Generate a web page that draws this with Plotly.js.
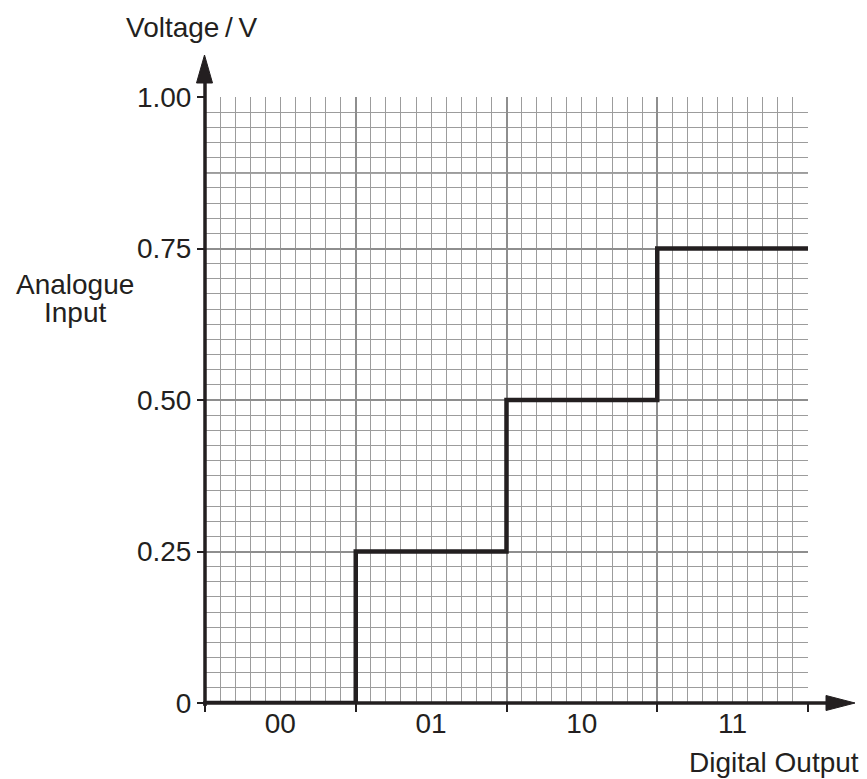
<!DOCTYPE html>
<html>
<head>
<meta charset="utf-8">
<script src="https://cdn.plot.ly/plotly-3.0.1.min.js"></script>
<style>
html,body{margin:0;padding:0;background:#fff;}
#chart{width:867px;height:779px;}
</style>
</head>
<body>
<div id="chart"></div>
<script>
// Data
const categories = ["00", "01", "10", "11"];
const levels = [0, 0.25, 0.5, 0.75];
const yTickVals = [0, 0.25, 0.5, 0.75, 1.0];
const yTickText = ["0", "0.25", "0.50", "0.75", "1.00"];
const xTitle = "Digital Output";
const yTitleTop = "Voltage\u2009/\u2009V";
const yTitleSide1 = "Analogue";
const yTitleSide2 = "Input";

// Build step trace from the levels: each code occupies one unit column
const stepX = [];
const stepY = [];
levels.forEach((v, i) => { stepX.push(i); stepY.push(v); });
stepX.push(levels.length);
stepY.push(levels[levels.length - 1]);

const ink = "#231f20";
const font = {family: "Liberation Sans, Arial, Helvetica, sans-serif", size: 28, color: ink};

const trace = {
  x: stepX, y: stepY, type: "scatter", mode: "lines",
  line: {shape: "hv", color: ink, width: 4.5},
  hoverinfo: "skip", showlegend: false, cliponaxis: false
};
// dummy trace for the label axis
const labelTrace = {
  x: categories.map((c, i) => i + 0.5), y: levels.map(() => null),
  xaxis: "x2", yaxis: "y", type: "scatter", mode: "markers",
  hoverinfo: "skip", showlegend: false
};

const L = 205, R = 808, T = 97, B = 703, W = 867, H = 779;
const pw = R - L, ph = B - T;
const px = v => (v - L) / pw;
const py = v => (B - v) / ph;

const shapes = [
  // darker line at 0.875
  {type: "line", xref: "x", yref: "y", x0: 0, x1: levels.length, y0: 0.875, y1: 0.875,
   line: {color: "#4a4a4a", width: 1.5}, layer: "below"},
  // y axis line
  {type: "line", xref: "paper", yref: "paper", x0: 0, x1: 0, y0: py(706), y1: py(80),
   line: {color: ink, width: 3.5}},
  // x axis line
  {type: "line", xref: "paper", yref: "paper", x0: px(203), x1: px(830), y0: 0, y1: 0,
   line: {color: ink, width: 3.5}},
  // y arrow head
  {type: "path", xref: "paper", yref: "paper",
   path: `M ${px(204.5)} ${py(55)} L ${px(196.5)} ${py(83)} L ${px(212.5)} ${py(83)} Z`,
   fillcolor: ink, line: {color: ink, width: 1}},
  // x arrow head
  {type: "path", xref: "paper", yref: "paper",
   path: `M ${px(855)} ${py(703)} L ${px(826)} ${py(695.5)} L ${px(826)} ${py(710.5)} Z`,
   fillcolor: ink, line: {color: ink, width: 1}}
];

const annotations = [
  {text: yTitleTop, xref: "paper", yref: "paper", x: px(191), y: py(28),
   showarrow: false, font: font, xanchor: "center", yanchor: "middle"},
  {text: yTitleSide1, xref: "paper", yref: "paper", x: px(75), y: py(284),
   showarrow: false, font: font, xanchor: "center", yanchor: "middle"},
  {text: yTitleSide2, xref: "paper", yref: "paper", x: px(75), y: py(312),
   showarrow: false, font: font, xanchor: "center", yanchor: "middle"},
  {text: xTitle, xref: "paper", yref: "paper", x: px(861), y: py(762),
   showarrow: false, font: font, xanchor: "right", yanchor: "middle"}
];

const layout = {
  width: W, height: H,
  margin: {l: L, r: W - R, t: T, b: H - B, pad: 0},
  paper_bgcolor: "#fff", plot_bgcolor: "#fff",
  font: font,
  showlegend: false,
  xaxis: {
    range: [0, levels.length], fixedrange: true,
    tickvals: categories.map((c, i) => i).concat([categories.length]),
    showticklabels: false,
    ticks: "outside", ticklen: 8, tickwidth: 2, tickcolor: ink,
    showgrid: true, gridcolor: "#8e8e8e", gridwidth: 2,
    minor: {dtick: 0.1, tick0: 0, showgrid: true, gridcolor: "#9c9c9c", gridwidth: 1, ticks: ""},
    zeroline: false, showline: false
  },
  xaxis2: {
    overlaying: "x", anchor: "y", side: "bottom",
    range: [0, levels.length], fixedrange: true,
    tickvals: categories.map((c, i) => i + 0.5), ticktext: categories,
    ticks: "", showgrid: false, zeroline: false, showline: false,
    tickfont: font, ticklabelstandoff: 1
  },
  yaxis: {
    range: [0, 1], fixedrange: true,
    tickvals: yTickVals, ticktext: yTickText,
    ticks: "outside", ticklen: 7, tickwidth: 2, tickcolor: ink,
    tickfont: font,
    showgrid: true, gridcolor: "#8e8e8e", gridwidth: 2,
    minor: {dtick: 0.025, tick0: 0, showgrid: true, gridcolor: "#9c9c9c", gridwidth: 1, ticks: ""},
    zeroline: false, showline: false
  },
  shapes: shapes,
  annotations: annotations
};

Plotly.newPlot("chart", [trace, labelTrace], layout, {staticPlot: true, displayModeBar: false});
</script>
</body>
</html>
